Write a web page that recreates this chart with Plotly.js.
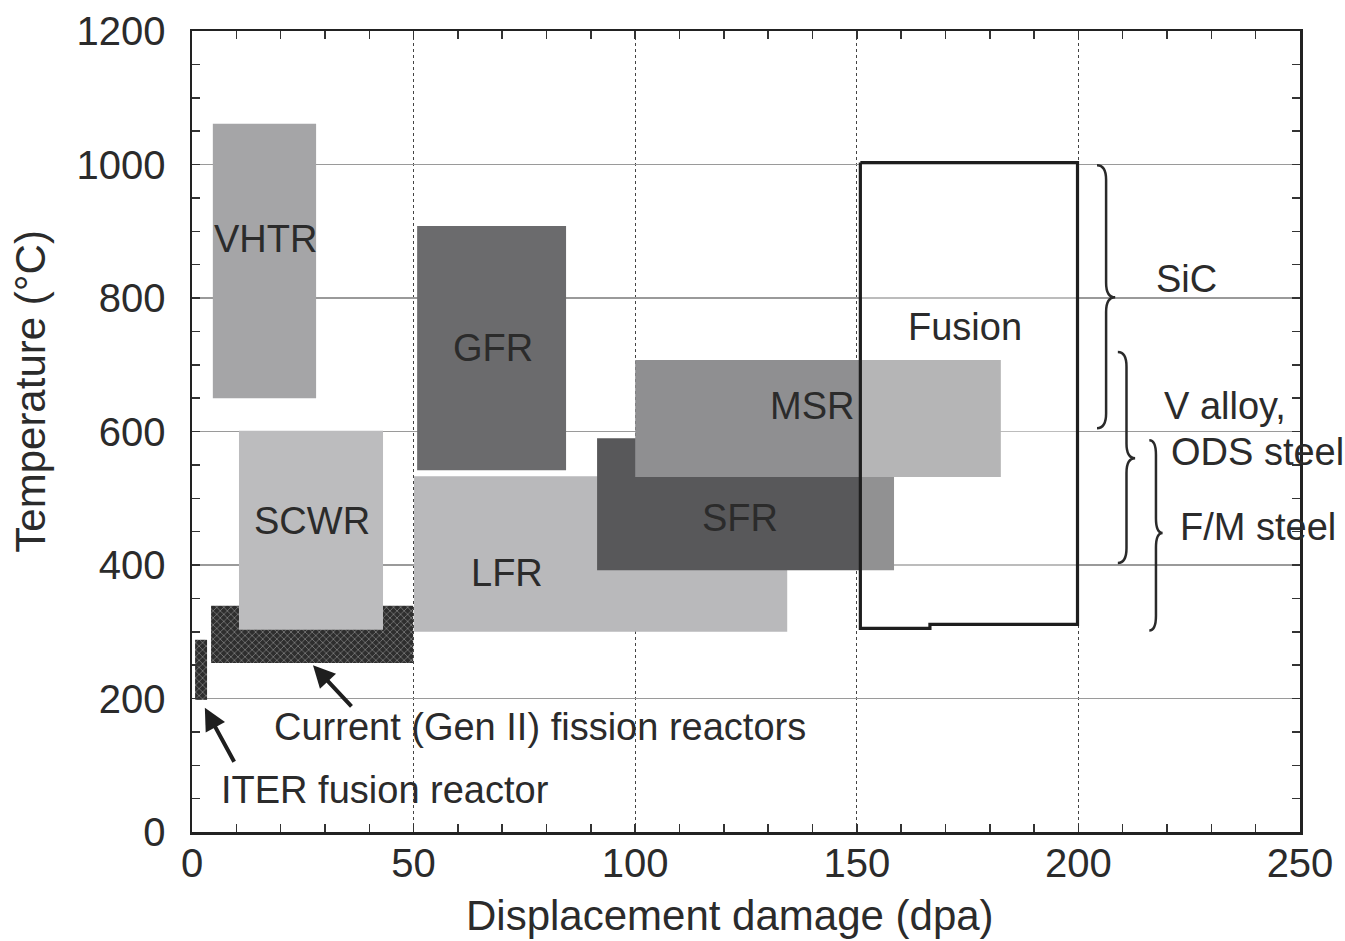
<!DOCTYPE html>
<html>
<head>
<meta charset="utf-8">
<script src="https://cdn.plot.ly/plotly-3.0.1.min.js"></script>
<style>html,body{margin:0;padding:0;background:#fff;}#chart{width:1345px;height:941px;}</style>
</head>
<body>
<div id="chart"></div>
<script>
// Reactor operating windows (displacement damage in dpa, temperature in °C)
const reactors   = ['Gen II', 'ITER', 'VHTR', 'SCWR', 'GFR', 'LFR', 'SFR', 'MSR'];
const dpaMin     = [4.3,   0.7,   4.7,   10.6,  50.8,  50.1,  91.4,  100.0];
const dpaMax     = [49.9,  3.4,   28.0,  43.1,  84.4,  134.3, 158.4, 182.5];
const tempMin    = [253,   198,   650,   303,   542,   300,   392,   532];
const tempMax    = [339,   288,   1061,  601,   908,   533,   590,   707];
const fillColors = ['#3a3a3a', '#3a3a3a', '#a5a5a7', '#bcbcbe', '#6b6b6d', '#b9b9bb', '#58585a', '#8f8f91'];
const hatched    = [true, true, false, false, false, false, false, false];

// Fusion window outline (step at the lower edge)
const fusionDpa  = [150.8, 199.8, 199.8, 166.5, 166.5, 150.8, 150.8];
const fusionTemp = [1003, 1003, 311, 311, 305, 305, 1003];

// Region labels
const labelText = ['VHTR', 'SCWR', 'GFR', 'LFR', 'MSR', 'SFR', 'Fusion', 'SiC', 'V alloy,', 'ODS steel', 'F/M steel'];
const labelDpa  = [16.5, 27.0, 68.0, 71.0, 140.0, 123.6, 174.4, 224.5, 233.0, 240.5, 240.5];
const labelTemp = [889, 466, 725, 388, 638, 470, 756, 829, 638, 569, 457];

// Material braces: top temp, bottom temp, tip temp, left dpa, right dpa
const braceTop   = [999, 719, 587];
const braceBot   = [605, 403, 302];
const braceTip   = [801, 560, 448];
const braceLeft  = [204.2, 208.9, 216.0];
const braceRight = [208.3, 212.8, 219.0];

// Arrow annotations
const arrowText    = ['Current (Gen II) fission reactors', 'ITER fusion reactor'];
const arrowTextDpa = [78.5, 43.5];
const arrowTextT   = [157, 63];
const arrowHeadDpa = [27.3, 2.9];
const arrowHeadT   = [250, 186];
const arrowTailDpa = [36.3, 9.7];
const arrowTailT   = [186, 103];

const FONT = 'Liberation Sans, Arial, sans-serif';
const TXT = '#2b2b2b';

const traces = [];
for (let i = 0; i < reactors.length; i++) {
  const t = {
    type: 'scatter', mode: 'lines', name: reactors[i],
    x: [dpaMin[i], dpaMax[i], dpaMax[i], dpaMin[i], dpaMin[i]],
    y: [tempMin[i], tempMin[i], tempMax[i], tempMax[i], tempMin[i]],
    fill: 'toself', fillcolor: fillColors[i],
    line: {width: 0, color: fillColors[i]},
    hoverinfo: 'name', showlegend: false
  };
  if (hatched[i]) {
    t.fillpattern = {shape: 'x', bgcolor: '#2e2e2e', fgcolor: '#8a8a8a', size: 5, solidity: 0.25};
  }
  traces.push(t);
}
// Fusion window: translucent white veil + black outline
traces.push({
  type: 'scatter', mode: 'lines', name: 'Fusion',
  x: fusionDpa, y: fusionTemp,
  fill: 'toself', fillcolor: 'rgba(255,255,255,0.34)',
  line: {width: 3.2, color: '#1e1e1e'},
  hoverinfo: 'name', showlegend: false
});

const annotations = [];
for (let i = 0; i < labelText.length; i++) {
  annotations.push({
    x: labelDpa[i], y: labelTemp[i], xref: 'x', yref: 'y',
    text: labelText[i], showarrow: false,
    font: {family: FONT, size: 38, color: TXT}
  });
}
for (let i = 0; i < arrowText.length; i++) {
  annotations.push({
    x: arrowTextDpa[i], y: arrowTextT[i], xref: 'x', yref: 'y',
    text: arrowText[i], showarrow: false,
    font: {family: FONT, size: 38, color: TXT}
  });
  annotations.push({
    x: arrowHeadDpa[i], y: arrowHeadT[i], xref: 'x', yref: 'y',
    ax: arrowTailDpa[i], ay: arrowTailT[i], axref: 'x', ayref: 'y',
    text: '', showarrow: true, arrowhead: 2, arrowsize: 1.1, arrowwidth: 4,
    arrowcolor: '#1e1e1e', standoff: 0, startstandoff: 0
  });
}
// Axis titles
annotations.push({
  x: 0.486, y: -0.104, xref: 'paper', yref: 'paper', xanchor: 'center', yanchor: 'middle',
  text: 'Displacement damage (dpa)',
  showarrow: false, font: {family: FONT, size: 42, color: TXT}
});
annotations.push({
  x: -0.146, y: 0.55, xref: 'paper', yref: 'paper', xanchor: 'center', yanchor: 'middle',
  text: 'Temperature (°C)', textangle: -90,
  showarrow: false, font: {family: FONT, size: 42, color: TXT}
});

const shapes = [];
for (let i = 0; i < braceTop.length; i++) {
  const xl = braceLeft[i], xr = braceRight[i], xm = (xl + xr) / 2;
  const y0 = braceTop[i], y1 = braceBot[i], ym = braceTip[i], d = 22;
  const p = `M ${xl},${y0} Q ${xm},${y0} ${xm},${y0 - d} L ${xm},${ym + d} Q ${xm},${ym} ${xr},${ym} ` +
            `Q ${xm},${ym} ${xm},${ym - d} L ${xm},${y1 + d} Q ${xm},${y1} ${xl},${y1}`;
  shapes.push({type: 'path', xref: 'x', yref: 'y', path: p, line: {color: '#2a2a2a', width: 2.5}});
}

const axisCommon = {
  showline: true, linecolor: '#222', linewidth: 2.5, mirror: 'ticks',
  ticks: 'inside', ticklen: 8, tickwidth: 1.5, tickcolor: '#333',
  tickfont: {family: FONT, size: 40, color: TXT},
  zeroline: false, showgrid: true
};

const layout = {
  width: 1345, height: 941,
  margin: {l: 192, r: 45, t: 31, b: 109},
  paper_bgcolor: '#fff', plot_bgcolor: '#fff',
  showlegend: false,
  xaxis: Object.assign({}, axisCommon, {
    range: [0, 250], dtick: 50, tick0: 0, ticklabelstandoff: -6,
    gridcolor: '#444', gridwidth: 1.3, griddash: 'dot',
    minor: {dtick: 10, ticks: 'inside', ticklen: 8, tickcolor: '#333', showgrid: false}
  }),
  yaxis: Object.assign({}, axisCommon, {
    range: [0, 1200], dtick: 200, tick0: 0, ticklabelstandoff: 16,
    gridcolor: '#9a9a9a', gridwidth: 1.5,
    minor: {dtick: 50, ticks: 'inside', ticklen: 8, tickcolor: '#333', showgrid: false}
  }),
  annotations: annotations,
  shapes: shapes
};

Plotly.newPlot('chart', traces, layout, {staticPlot: true});
</script>
</body>
</html>
